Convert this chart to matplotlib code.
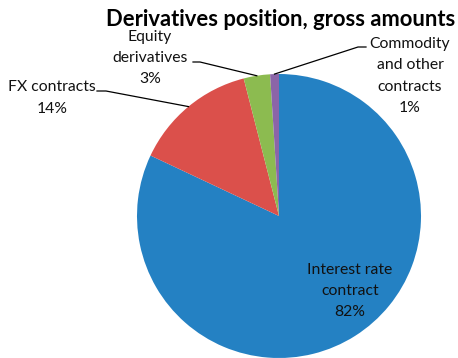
import numpy as np
import matplotlib
matplotlib.use("Agg")
import matplotlib.pyplot as plt

labels = ["Interest rate\ncontract", "FX contracts", "Equity\nderivatives", "Commodity\nand other\ncontracts"]
values = [82, 14, 3, 1]
colors = ["#2481C3", "#DB504B", "#8CBB50", "#8B65A8"]
title = "Derivatives position, gross amounts"

W, H = 458, 358
fig = plt.figure(figsize=(W / 100, H / 100), dpi=100)
ax = fig.add_axes([0, 0, 1, 1])

cx, cy, r = 279, H - 216, 142
wedges, _ = ax.pie(values, colors=colors, startangle=90, counterclock=False,
                   center=(cx, cy), radius=r, frame=True,
                   wedgeprops=dict(linewidth=0))
ax.set_xlim(0, W)
ax.set_ylim(0, H)
ax.set_aspect("equal")
ax.axis("off")

font = "Lato"
fs = 11.3
ls = 1.66
pcts = [f"{v}%" for v in values]

# inside label for the big slice
ax.text(350, H - 291, labels[0] + "\n" + pcts[0], ha="center", va="center",
        fontsize=fs, family=font, linespacing=ls, color="#111111")

# outside labels: (text center, elbow start, line end)
outside = {
    1: ((52, H - 98), (106, H - 91), (97, H - 91)),
    2: ((150, H - 58), (200, H - 62), (193, H - 62)),
    3: ((410, H - 76), (358, H - 47), (366, H - 47)),
}
for i, (tpos, elbow, end) in outside.items():
    w = wedges[i]
    mid = np.deg2rad((w.theta1 + w.theta2) / 2)
    px, py = cx + r * np.cos(mid), cy + r * np.sin(mid)
    ax.plot([px, elbow[0], end[0]], [py, elbow[1], end[1]], color="black", lw=0.9)
    ax.text(tpos[0], tpos[1], labels[i] + "\n" + pcts[i], ha="center", va="center",
            fontsize=fs, family=font, linespacing=ls, color="#111111")

ax.text(455, H - 20, title, ha="right", va="center", fontsize=15.8,
        fontweight="bold", family=font, color="black")

fig.savefig("out.png", dpi=100)
